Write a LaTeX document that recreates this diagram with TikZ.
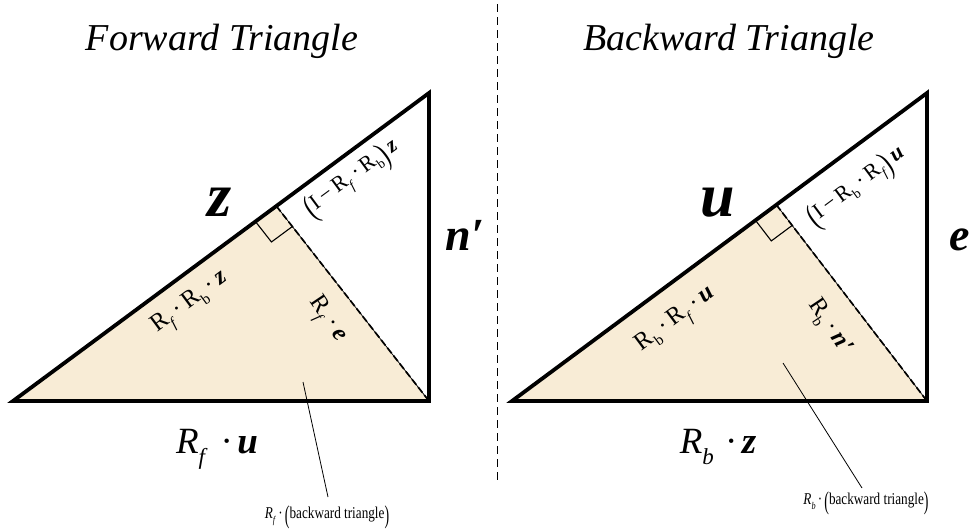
\documentclass[tikz,border=0pt]{standalone}
\usepackage{fontspec}
\setmainfont{Liberation Serif}
\usetikzlibrary{calc}
\definecolor{beige}{RGB}{248,236,214}
\newcommand\bi[1]{\textbf{\textit{#1}}}
% italic R with lowered small italic subscript
\newcommand\Ri[1]{\textit{R}\raisebox{-0.32em}{\scalebox{0.62}{\textit{#1}}}}
% upright R with lowered small subscript (given already styled)
\newcommand\Ru[1]{R\raisebox{-0.28em}{\scalebox{0.62}{#1}}}
\newcommand\bigpar[1]{\raisebox{-0.28em}{\scalebox{1.05}[1.55]{#1}}}
\newcommand\cdt{\,·\,}
\tikzset{
  outline/.style={line width=3.8pt, line join=miter},
  dashside/.style={line width=1.7pt, dash pattern=on 7pt off 3pt},
  thinside/.style={line width=0.7pt},
  rabox/.style={line width=1.1pt},
  titletext/.style={font=\fontsize{38}{44}\selectfont\itshape, inner sep=0pt, anchor=base},
  biglab/.style={font=\fontsize{62}{66}\selectfont\bfseries\itshape, inner sep=0pt, anchor=base},
  midlab/.style={font=\fontsize{46}{50}\selectfont\bfseries\itshape, inner sep=0pt, anchor=base},
  botlab/.style={font=\fontsize{37}{42}\selectfont, inner sep=0pt, anchor=base},
  sidelab/.style={font=\fontsize{22}{26}\selectfont, inner sep=0pt},
  sidelabb/.style={font=\fontsize{24.5}{28}\selectfont, inner sep=0pt},
  leadlab/.style={font=\fontsize{16.5}{18}\selectfont, inner sep=0pt},
  leader/.style={line width=0.8pt}
}
\begin{document}
\begin{tikzpicture}[x=1pt,y=-1pt]
\useasboundingbox (0,0) rectangle (971,531);
% ---------- left triangle ----------
\coordinate (A1) at (13,401);
\coordinate (B1) at (429,401);
\coordinate (C1) at (429,93);
\coordinate (F1) at ($(A1)!0.633!(C1)$);
\fill[beige] (A1) -- (B1) -- (F1) -- cycle;
\coordinate (P1) at ($(F1)!26pt!(A1)$);
\coordinate (Q1) at ($(F1)!26pt!(B1)$);
\draw[rabox] (P1) -- ($(P1)+(Q1)-(F1)$) -- (Q1);
\draw[thinside] (F1) -- (B1);
\draw[dashside] (F1) -- (B1);
\draw[outline] (A1) -- (B1) -- (C1) -- cycle;
% ---------- right triangle ----------
\coordinate (A2) at (512,401);
\coordinate (B2) at (927,401);
\coordinate (C2) at (927,93);
\coordinate (F2) at ($(A2)!0.637!(C2)$);
\fill[beige] (A2) -- (B2) -- (F2) -- cycle;
\coordinate (P2) at ($(F2)!26pt!(A2)$);
\coordinate (Q2) at ($(F2)!26pt!(B2)$);
\draw[rabox] (P2) -- ($(P2)+(Q2)-(F2)$) -- (Q2);
\draw[thinside] (F2) -- (B2);
\draw[dashside] (F2) -- (B2);
\draw[outline] (A2) -- (B2) -- (C2) -- cycle;
% ---------- divider ----------
\coordinate (D1) at (497,4);
\coordinate (D2) at (497,484);
\draw[line width=1pt, dash pattern=on 8pt off 5pt] (D1) -- (D2);
% ---------- titles ----------
\node[titletext] (t1) at (222,50) {Forward Triangle};
\node[titletext] (t2) at (729,50) {Backward Triangle};
% ---------- left labels ----------
\node[biglab] (z1) at (220,216) {z};
\node[midlab] (n1) at (465,250) {n′};
\node[botlab] (b1) at (217,453) {\Ri{f}\hspace{0.35em}·\hspace{0.12em}\bi{u}};
\node[sidelab, rotate=36.5] (s11) at (353,180) {\bigpar{(}I\,−\,\Ru{\textit{f}}\cdt\Ru{b}\bigpar{)}\,\bi{z}};
\node[sidelabb, rotate=36.5] (s12) at (191,304) {\Ru{\textit{f}}\cdt\Ru{b}\cdt\bi{z}};
\node[sidelabb, rotate=-56] (s13) at (326,320) {\Ru{\textit{f}}\cdt\bi{e}};
% ---------- right labels ----------
\node[biglab] (u2) at (718,216) {u};
\node[midlab] (e2) at (960,250) {e};
\node[botlab] (b2) at (718,453) {\Ri{b}\hspace{0.3em}·\hspace{0.12em}\bi{z}};
\node[sidelab, rotate=36.7] (s21) at (858,188) {\bigpar{(}I\,−\,\Ru{b}\cdt\Ru{\textit{f}}\bigpar{)}\,\bi{u}};
\node[sidelabb, rotate=36.7] (s22) at (677,321) {\Ru{b}\cdt\Ru{\textit{f}}\cdt\bi{u}};
\node[sidelabb, rotate=-56] (s23) at (829,327) {\Ru{b}\cdt\bi{n′}};
% ---------- leaders ----------
\node[leadlab] (l1) at (327,517) {\scalebox{0.8}[1]{\Ri{f}\cdt\bigpar{(}backward triangle\bigpar{)}}};
\node[leadlab] (l2) at (866,503) {\scalebox{0.8}[1]{\Ri{b}\cdt\bigpar{(}backward triangle\bigpar{)}}};
\coordinate (L1s) at (303,382);
\coordinate (L1e) at (328,497);
\coordinate (L2s) at (783,363);
\coordinate (L2e) at (862,488);
\draw[leader] (L1s) -- (L1e);
\draw[leader] (L2s) -- (L2e);
\end{tikzpicture}
\end{document}
